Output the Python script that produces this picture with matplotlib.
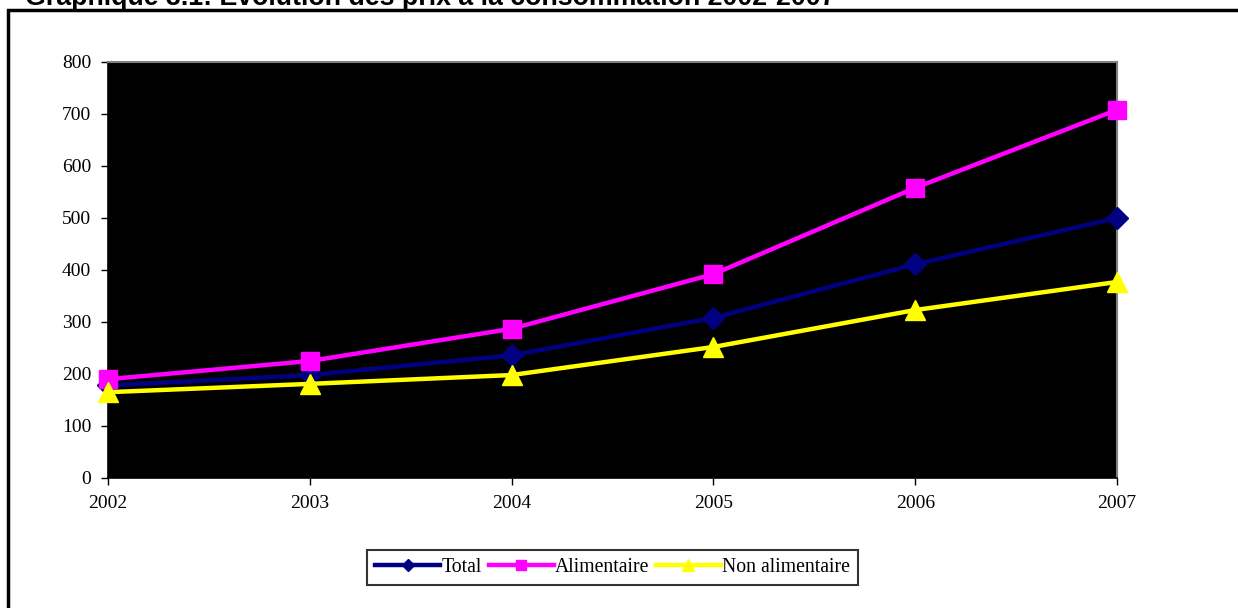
import numpy as np
import matplotlib.pyplot as plt
from matplotlib.patches import Rectangle

years = [2002, 2003, 2004, 2005, 2006, 2007]
total = [178, 198, 236, 308, 411, 500]
alimentaire = [190, 225, 287, 392, 558, 708]
non_alimentaire = [165, 181, 198, 252, 323, 377]
yticks = [0, 100, 200, 300, 400, 500, 600, 700, 800]

plt.rcParams['font.family'] = ['Liberation Serif', 'DejaVu Serif']

fig = plt.figure(figsize=(12.38, 6.08), dpi=100)
ax = fig.add_axes([108 / 1238, 1 - 478 / 608, (1117 - 108) / 1238, (478 - 62) / 608])
ax.set_facecolor("black")

# cadre exterieur
fig.patches.append(Rectangle((8 / 1238, -0.1), 1.2, 1 - 10 / 608 + 0.1, transform=fig.transFigure,
                             fill=False, edgecolor="black", linewidth=2.5, clip_on=False))
fig.text(25 / 1238, 1.0 - 5 / 608, "Graphique 3.1: Evolution des prix à la consommation 2002-2007",
         family="Liberation Sans", weight="bold", fontsize=19.3, va="baseline", ha="left")

ax.plot(years, total, color="#000080", lw=3.2, marker="D", ms=11, label="Total", clip_on=False, zorder=3)
ax.plot(years, alimentaire, color="#FF00FF", lw=3.2, marker="s", ms=13, label="Alimentaire", clip_on=False, zorder=4)
ax.plot(years, non_alimentaire, color="#FFFF00", lw=3.2, marker="^", ms=14, label="Non alimentaire", clip_on=False, zorder=5)

ax.set_xlim(2002, 2007)
ax.set_ylim(0, 800)
ax.set_xticks(years)
ax.set_yticks(yticks)
ax.tick_params(labelsize=14, direction="out", length=5, width=1, pad=7)
for s in ["top", "right"]:
    ax.spines[s].set_color("gray")
    ax.spines[s].set_linewidth(1.5)
for s in ["left", "bottom"]:
    ax.spines[s].set_color("black")
    ax.spines[s].set_linewidth(1.2)

leg = ax.legend(loc="upper center", bbox_to_anchor=(0.5, -0.15), ncol=3, fontsize=14.2,
                frameon=True, fancybox=False, edgecolor="black", handlelength=3.3,
                handletextpad=0.05, columnspacing=0.35, borderpad=0.4, markerscale=0.6)
leg.get_frame().set_linewidth(1.5)

plt.savefig("out.png", dpi=100)
